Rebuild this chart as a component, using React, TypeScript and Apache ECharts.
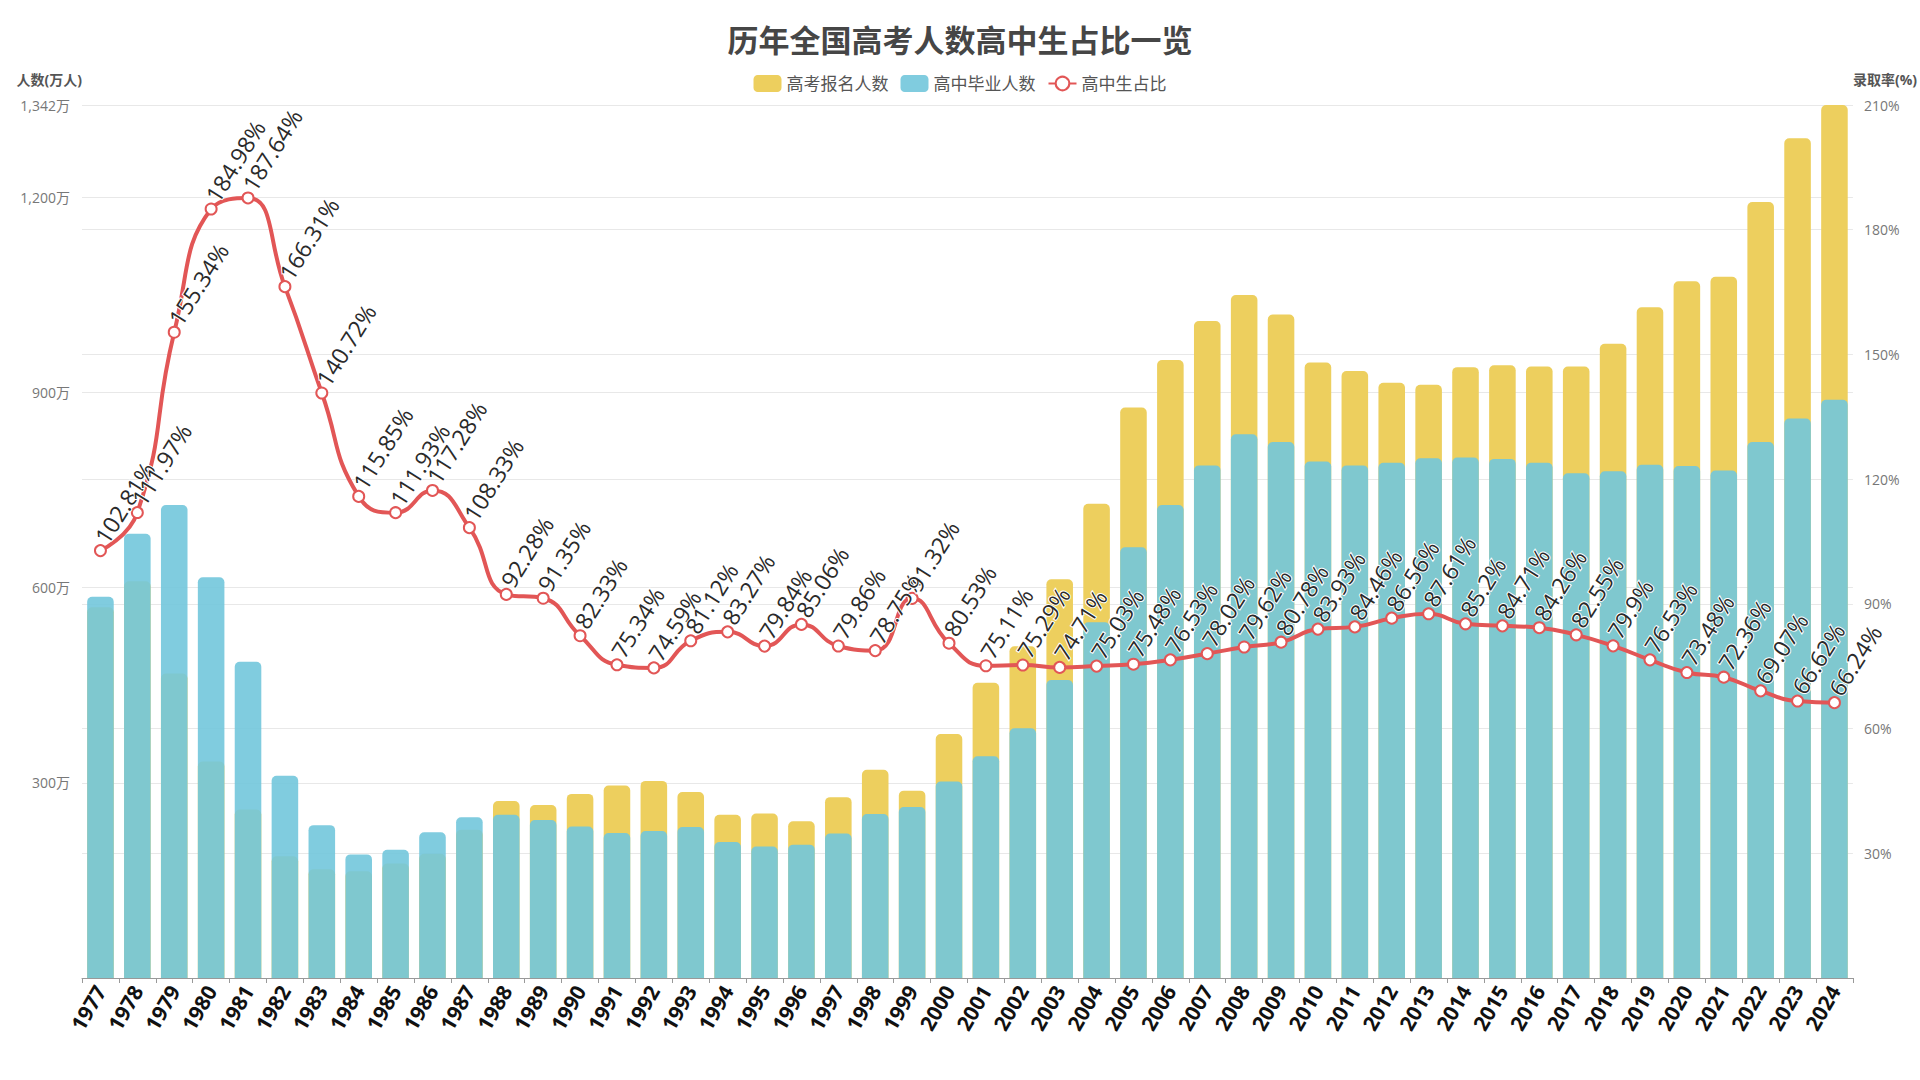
import React, { useEffect, useRef } from "react";
import * as echarts from "echarts";

const years = [
  "1977", "1978", "1979", "1980", "1981", "1982", "1983", "1984", "1985", "1986",
  "1987", "1988", "1989", "1990", "1991", "1992", "1993", "1994", "1995", "1996",
  "1997", "1998", "1999", "2000", "2001", "2002", "2003", "2004", "2005", "2006",
  "2007", "2008", "2009", "2010", "2011", "2012", "2013", "2014", "2015", "2016",
  "2017", "2018", "2019", "2020", "2021", "2022", "2023", "2024",
];

// 高考报名人数 (万人)
const applicants = [
  570, 610, 468, 333, 259, 187, 167, 164, 176, 191,
  228, 272, 266, 283, 296, 303, 286, 251, 253, 241,
  278, 320, 288, 375, 454, 510, 613, 729, 877, 950,
  1010, 1050, 1020, 946, 933, 915, 912, 939, 942, 940,
  940, 975, 1031, 1071, 1078, 1193, 1291, 1342,
];

// 高中毕业人数 (万人)
const graduates = [
  586, 683, 727, 616, 486, 311, 235, 190, 197, 224,
  247, 251, 243, 233, 223, 226, 232, 209, 202, 205,
  222, 252, 263, 302, 341, 384, 458, 547, 662, 727,
  788, 836, 824, 794, 788, 792, 799, 800, 798, 792,
  776, 779, 789, 787, 780, 824, 860, 889,
];

// 高中生占比 (%)
const ratios = [
  102.81, 111.97, 155.34, 184.98, 187.64, 166.31, 140.72, 115.85, 111.93, 117.28,
  108.33, 92.28, 91.35, 82.33, 75.34, 74.59, 81.12, 83.27, 79.84, 85.06,
  79.86, 78.75, 91.32, 80.53, 75.11, 75.29, 74.71, 75.03, 75.48, 76.53,
  78.02, 79.62, 80.78, 83.93, 84.46, 86.56, 87.61, 85.2, 84.71, 84.26,
  82.55, 79.9, 76.53, 73.48, 72.36, 69.07, 66.62, 66.24,
];

const FONT = "'Open Sans', 'Noto Sans CJK SC', sans-serif";

export default function App() {
  const ref = useRef<HTMLDivElement>(null);

  useEffect(() => {
    if (!ref.current) return;
    const chart = echarts.init(ref.current, null, { renderer: "svg" });
    chart.setOption({
      animation: false,
      backgroundColor: "#ffffff",
      textStyle: { fontFamily: FONT },
      title: {
        text: "历年全国高考人数高中生占比一览",
        left: "center",
        top: 19,
        textStyle: { fontSize: 31, fontWeight: "bold", color: "#464646", fontFamily: FONT },
      },
      legend: {
        top: 70,
        left: "center",
        itemWidth: 28,
        itemHeight: 17,
        itemGap: 12,
        textStyle: { fontSize: 17, color: "#555", fontFamily: FONT },
        data: ["高考报名人数", "高中毕业人数", "高中生占比"],
      },
      grid: { left: 82, right: 67, top: 105, bottom: 102 },
      xAxis: {
        type: "category",
        data: years,
        axisLine: { lineStyle: { color: "#999" } },
        axisTick: { show: true, lineStyle: { color: "#999" } },
        axisLabel: {
          interval: 0,
          rotate: 60,
          fontSize: 21,
          fontWeight: "bold",
          color: "#111",
          margin: 9,
          fontFamily: FONT,
        },
      },
      yAxis: [
        {
          type: "value",
          name: "人数(万人)",
          min: 0,
          max: 1342,
          interval: 300,
          nameGap: 19,
          nameTextStyle: { align: "right", fontSize: 14, color: "#555", fontWeight: "bold", fontFamily: FONT },
          axisLabel: {
            showMinLabel: false,
            color: "#777",
            fontSize: 14,
            margin: 12,
            formatter: (v: number) => v.toLocaleString("en-US") + "万",
          },
          splitLine: { lineStyle: { color: "#e8e8e8" } },
          axisLine: { show: false },
          axisTick: { show: false },
        },
        {
          type: "value",
          name: "录取率(%)",
          min: 0,
          max: 210,
          interval: 30,
          position: "right",
          nameGap: 19,
          nameTextStyle: { align: "left", fontSize: 14, color: "#555", fontWeight: "bold", fontFamily: FONT },
          axisLabel: {
            showMinLabel: false,
            color: "#777",
            fontSize: 14,
            margin: 11,
            formatter: "{value}%",
          },
          splitLine: { lineStyle: { color: "#e8e8e8" } },
          axisLine: { show: false },
          axisTick: { show: false },
        },
      ],
      series: [
        {
          name: "高考报名人数",
          type: "bar",
          data: applicants,
          barWidth: "72%",
          itemStyle: { color: "#edcf5e", borderRadius: [5, 5, 0, 0] },
        },
        {
          name: "高中毕业人数",
          type: "bar",
          data: graduates,
          barWidth: "72%",
          barGap: "-100%",
          itemStyle: { color: "#72c7dc", opacity: 0.9, borderRadius: [5, 5, 0, 0] },
        },
        {
          name: "高中生占比",
          type: "line",
          yAxisIndex: 1,
          data: ratios,
          smooth: true,
          symbol: "emptyCircle",
          symbolSize: 11,
          lineStyle: { width: 4, color: "#e25656" },
          itemStyle: { color: "#e25656", borderWidth: 2 },
          label: {
            show: true,
            position: "top",
            distance: 3,
            rotate: 58,
            align: "left",
            verticalAlign: "middle",
            formatter: "{c}%",
            fontSize: 23,
            color: "#2a2a2a",
            textBorderColor: "#fff",
            textBorderWidth: 2,
            fontFamily: FONT,
          },
        },
      ],
    });
    return () => chart.dispose();
  }, []);

  return (
    <div
      ref={ref}
      style={{ position: "fixed", left: 0, top: 0, width: 1920, height: 1080, background: "#fff" }}
    />
  );
}
